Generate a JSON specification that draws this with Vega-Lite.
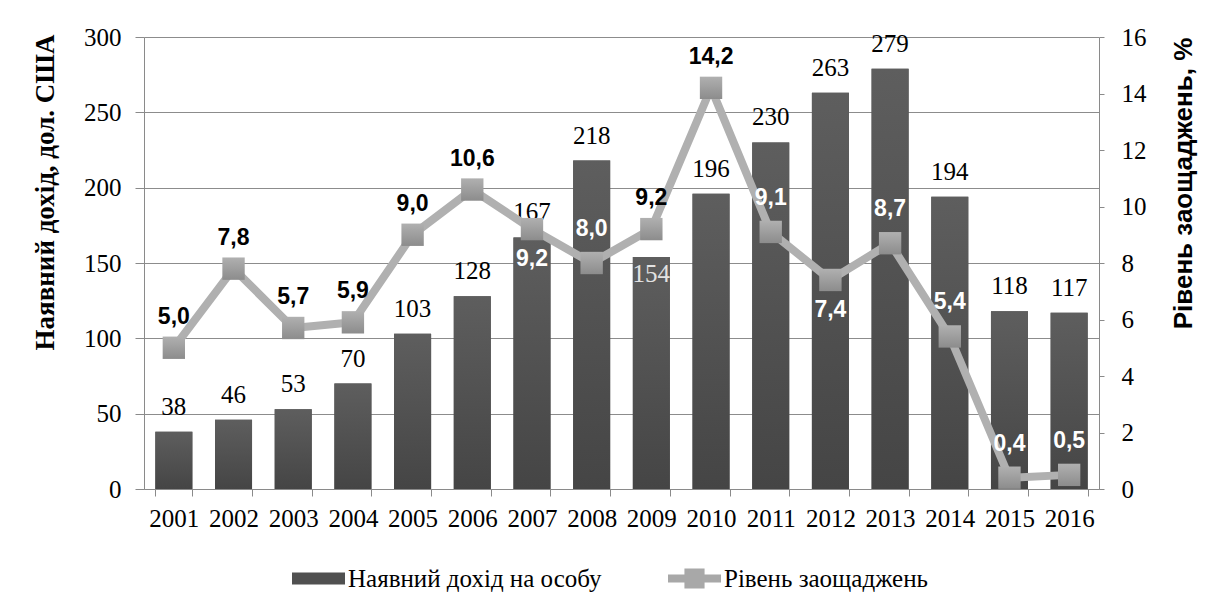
{
  "$schema": "https://vega.github.io/schema/vega-lite/v6.json",
  "autosize": "none",
  "width": 955,
  "height": 452,
  "padding": {"left": 144, "top": 37, "right": 108, "bottom": 116},
  "background": "white",
  "config": {
    "font": "Liberation Serif",
    "view": {"stroke": null},
    "style": {"guide-label": {"font": "Liberation Serif", "fontSize": 25, "fill": "#000"}},
    "locale": {"number": {"decimal": ",", "thousands": " ", "grouping": [3], "currency": ["", ""]}},
    "axis": {"domainColor": "#8a8a8a", "tickColor": "#8a8a8a", "labelColor": "#000", "labelFont": "Liberation Serif", "labelFontSize": 25, "titleColor": "#000"},
    "legend": {"labelFont": "Liberation Serif", "labelFontSize": 25, "labelColor": "#000", "labelLimit": 0}
  },
  "data": {
    "values": [
      {"year": "2001", "income": 38, "savings": 5.0},
      {"year": "2002", "income": 46, "savings": 7.8},
      {"year": "2003", "income": 53, "savings": 5.7},
      {"year": "2004", "income": 70, "savings": 5.9},
      {"year": "2005", "income": 103, "savings": 9.0},
      {"year": "2006", "income": 128, "savings": 10.6},
      {"year": "2007", "income": 167, "savings": 9.2},
      {"year": "2008", "income": 218, "savings": 8.0},
      {"year": "2009", "income": 154, "savings": 9.2},
      {"year": "2010", "income": 196, "savings": 14.2},
      {"year": "2011", "income": 230, "savings": 9.1},
      {"year": "2012", "income": 263, "savings": 7.4},
      {"year": "2013", "income": 279, "savings": 8.7},
      {"year": "2014", "income": 194, "savings": 5.4},
      {"year": "2015", "income": 118, "savings": 0.4},
      {"year": "2016", "income": 117, "savings": 0.5}
    ]
  },
  "encoding": {
    "x": {
      "field": "year", "type": "ordinal",
      "scale": {"paddingInner": 0.38, "paddingOuter": 0.19},
      "axis": {"title": null, "labelAngle": 0, "tickBand": "extent", "tickSize": 7, "labelPadding": 10, "grid": false}
    }
  },
  "layer": [
    {
      "encoding": {
        "y": {
          "field": "income", "type": "quantitative",
          "scale": {"domain": [0, 300], "nice": false},
          "axis": {
            "orient": "left", "values": [0, 50, 100, 150, 200, 250, 300],
            "grid": true, "gridColor": "#8c8c8c", "tickSize": 9, "labelPadding": 14,
            "title": "Наявний дохід, дол. США", "titleFont": "Liberation Serif", "titleFontSize": 27, "titleFontWeight": "bold",
            "titleAngle": 270, "titleX": -99, "titleY": 155, "titleAlign": "center", "titleBaseline": "middle"
          }
        }
      },
      "layer": [
        {
          "mark": {"type": "bar"},
          "encoding": {
            "fill": {"datum": "Наявний дохід на особу", "type": "nominal",
              "scale": {"range": ["#505050"]},
              "legend": {
                "orient": "none", "legendX": 148, "legendY": 515, "title": null,
                "symbolType": "M-1,-0.23H1V0.23H-1Z", "symbolSize": 2809, "symbolStrokeWidth": 0,
                "labelFont": "Liberation Serif", "labelFontSize": 25, "labelColor": "#000", "labelOffset": 3, "labelLimit": 0, "padding": 0
              }
            }
          }
        },
        {
          "mark": {"type": "bar", "color": {"gradient": "linear", "x1": 0, "y1": 0, "x2": 0, "y2": 1, "stops": [{"offset": 0, "color": "#5e5e5e"}, {"offset": 1, "color": "#454545"}]}}
        },
        {
          "transform": [{"filter": "datum.year != '2009'"}],
          "mark": {"type": "text", "font": "Liberation Serif", "fontSize": 25, "color": "#000", "baseline": "alphabetic", "dy": -17},
          "encoding": {"text": {"field": "income", "type": "quantitative", "format": "d"}}
        },
        {
          "transform": [{"filter": "datum.year == '2009'"}],
          "mark": {"type": "text", "font": "Liberation Serif", "fontSize": 25, "color": "#e2e2e2", "baseline": "alphabetic", "dy": 25},
          "encoding": {"text": {"field": "income", "type": "quantitative", "format": "d"}}
        }
      ]
    },
    {
      "encoding": {
        "y": {
          "field": "savings", "type": "quantitative",
          "scale": {"domain": [0, 16], "nice": false},
          "axis": {
            "orient": "right", "values": [0, 2, 4, 6, 8, 10, 12, 14, 16],
            "grid": false, "tickSize": 5, "labelPadding": 17,
            "title": "Рівень заощаджень, %", "titleFont": "Liberation Sans", "titleFontSize": 26, "titleFontWeight": "bold",
            "titleAngle": 270, "titleX": 84, "titleY": 146, "titleAlign": "center", "titleBaseline": "middle"
          }
        }
      },
      "layer": [
        {
          "mark": {"type": "line", "strokeWidth": 8, "strokeJoin": "round"},
          "encoding": {
            "stroke": {"datum": "Рівень заощаджень", "type": "nominal",
              "scale": {"range": ["#b0b0b0"]},
              "legend": {
                "orient": "none", "legendX": 524, "legendY": 515, "title": null,
                "symbolType": "M-1,-0.15H-0.38V-0.38H0.38V-0.15H1V0.15H0.38V0.38H-0.38V0.15H-1Z", "symbolSize": 2809,
                "symbolFillColor": "#a8a8a8", "symbolStrokeWidth": 0,
                "labelFont": "Liberation Serif", "labelFontSize": 25, "labelColor": "#000", "labelOffset": 3, "labelLimit": 0, "padding": 0
              }
            }
          }
        },
        {
          "mark": {"type": "point", "shape": "square", "size": 500, "filled": true, "opacity": 1,
            "fill": {"gradient": "linear", "x1": 0, "y1": 0, "x2": 0, "y2": 1, "stops": [{"offset": 0, "color": "#b0b0b0"}, {"offset": 1, "color": "#8c8c8c"}]}}
        },
        {
          "transform": [{"filter": {"field": "year", "oneOf": ["2001", "2002", "2003", "2004", "2005", "2006", "2009", "2010"]}}],
          "mark": {"type": "text", "font": "Liberation Sans", "fontWeight": "bold", "fontSize": 23, "color": "#000", "baseline": "alphabetic", "dy": -24},
          "encoding": {"text": {"field": "savings", "type": "quantitative", "format": ".1f"}}
        },
        {
          "transform": [{"filter": {"field": "year", "oneOf": ["2008", "2011", "2013", "2014", "2015", "2016"]}}],
          "mark": {"type": "text", "font": "Liberation Sans", "fontWeight": "bold", "fontSize": 23, "color": "#fff", "baseline": "alphabetic", "dy": -27},
          "encoding": {"text": {"field": "savings", "type": "quantitative", "format": ".1f"}}
        },
        {
          "transform": [{"filter": {"field": "year", "oneOf": ["2007", "2012"]}}],
          "mark": {"type": "text", "font": "Liberation Sans", "fontWeight": "bold", "fontSize": 23, "color": "#fff", "baseline": "alphabetic", "dy": 37},
          "encoding": {"text": {"field": "savings", "type": "quantitative", "format": ".1f"}}
        }
      ]
    }
  ],
  "resolve": {"scale": {"y": "independent"}}
}
